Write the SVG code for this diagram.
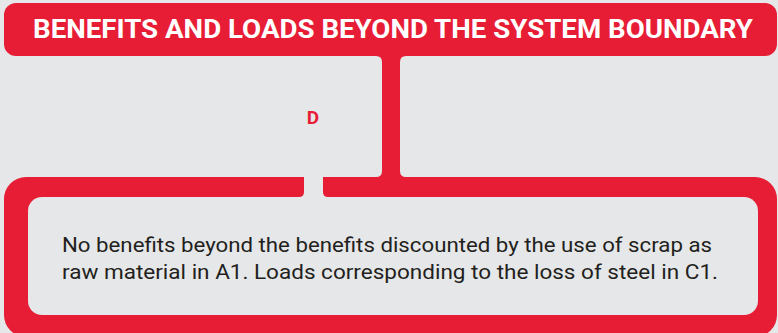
<svg xmlns="http://www.w3.org/2000/svg" width="778" height="333" viewBox="0 0 778 333">
<style>
.red{fill:#e71d36}
.bg{fill:#e6e7e8}
.hdr{font-family:Roboto,"Liberation Sans",sans-serif;font-weight:700;font-size:25.5px;fill:#ffffff}
.lbl{font-family:Roboto,"Liberation Sans",sans-serif;font-weight:700;font-size:19px;fill:#e71d36}
.body{font-family:Roboto,"Liberation Sans",sans-serif;font-size:20.5px;fill:#231f20}
</style>
<rect class="bg" x="0" y="0" width="778" height="333"/>
<g id="connectors">
<rect class="red" x="382" y="50" width="18" height="132"/>
<path class="red" d="M376,56 L382,56 L382,62 Q382,56 376,56 Z"/>
<path class="red" d="M406,56 L400,56 L400,62 Q400,56 406,56 Z"/>
<path class="red" d="M376,177 L382,177 L382,171 Q382,177 376,177 Z"/>
<path class="red" d="M406,177 L400,177 L400,171 Q400,177 406,177 Z"/>
<text class="lbl" x="313" y="124" text-anchor="middle">D</text>
</g>
<g id="header">
<rect class="red" x="4" y="3" width="773" height="53" rx="12"/>
<text class="hdr" x="33" y="38" textLength="720" lengthAdjust="spacingAndGlyphs">BENEFITS AND LOADS BEYOND THE SYSTEM BOUNDARY</text>
</g>
<g id="description">
<rect class="red" x="4" y="177" width="773" height="160" rx="22"/>
<rect class="bg" x="28" y="197" width="730" height="118" rx="14"/>
<path class="bg" d="M304,170 V192 Q304,197 299,197 H328 Q323,197 323,192 V170 Z"/>
<text class="body" x="62" y="252" textLength="650" lengthAdjust="spacingAndGlyphs">No benefits beyond the benefits discounted by the use of scrap as</text>
<text class="body" x="62" y="279" textLength="656" lengthAdjust="spacingAndGlyphs">raw material in A1. Loads corresponding to the loss of steel in C1.</text>
</g>
</svg>
